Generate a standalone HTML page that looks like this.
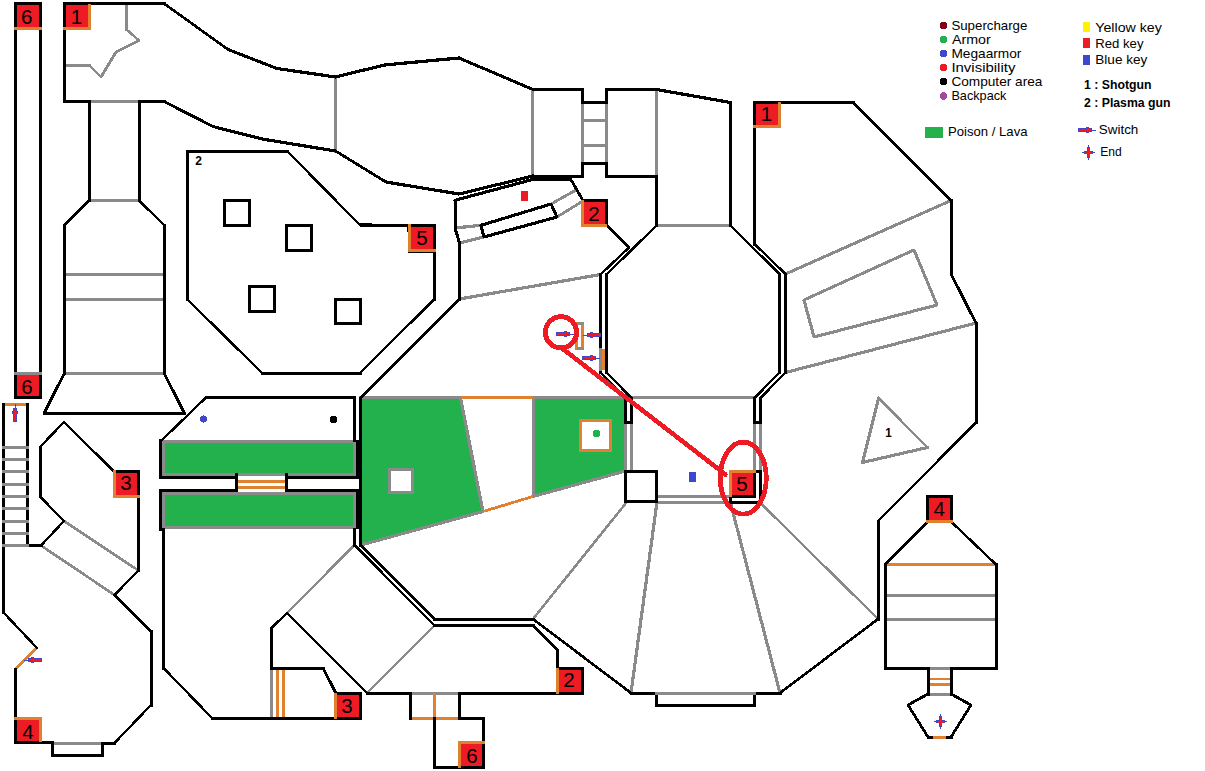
<!DOCTYPE html>
<html lang="en"><head><meta charset="utf-8"><title>Map</title>
<style>
html,body{margin:0;padding:0;background:#fff;}
body{width:1205px;height:771px;overflow:hidden;}
svg{display:block;font-family:"Liberation Sans",sans-serif;}
</style></head><body>
<svg width="1205" height="771" viewBox="0 0 1205 771">
<rect width="1205" height="771" fill="#fff"/>
<g shape-rendering="crispEdges">
<polygon points="361,398 460.5,398 483,511.5 361,545" fill="#22b14c"/>
<polygon points="533,398 625.5,398 625.5,471 533,496.5" fill="#22b14c"/>
<rect x="163.7" y="441.5" width="190.8" height="32.8" fill="#22b14c"/>
<rect x="163.7" y="493.4" width="190.8" height="33.9" fill="#22b14c"/>
<rect x="17" y="5" width="22" height="22" fill="#ed1c24"/>
<rect x="17" y="375" width="22" height="21" fill="#ed1c24"/>
<rect x="66" y="5" width="22" height="22" fill="#ed1c24"/>
<rect x="411" y="227" width="22" height="22" fill="#ed1c24"/>
<rect x="584" y="202" width="21" height="22" fill="#ed1c24"/>
<rect x="756" y="104" width="22" height="21" fill="#ed1c24"/>
<rect x="116" y="473" width="21" height="22" fill="#ed1c24"/>
<rect x="17" y="720" width="22" height="21" fill="#ed1c24"/>
<rect x="337" y="695" width="22" height="22" fill="#ed1c24"/>
<rect x="559" y="670" width="22" height="22" fill="#ed1c24"/>
<rect x="461" y="744" width="21" height="22" fill="#ed1c24"/>
<rect x="929" y="498" width="21" height="22" fill="#ed1c24"/>
<rect x="732" y="473" width="21" height="22" fill="#ed1c24"/>
<line x1="126.5" y1="3.5" x2="126.5" y2="29" stroke="#8a8a8a" stroke-width="3" stroke-linecap="square"/>
<line x1="126" y1="29" x2="139" y2="40.5" stroke="#8a8a8a" stroke-width="2.5" stroke-linecap="round"/>
<line x1="139" y1="40.5" x2="116" y2="52" stroke="#8a8a8a" stroke-width="2.93" stroke-linecap="round"/>
<line x1="116" y1="52" x2="101" y2="77" stroke="#8a8a8a" stroke-width="2.82" stroke-linecap="round"/>
<line x1="101" y1="77" x2="89" y2="65" stroke="#8a8a8a" stroke-width="2.37" stroke-linecap="round"/>
<line x1="89" y1="65.5" x2="64.8" y2="65.5" stroke="#8a8a8a" stroke-width="3" stroke-linecap="square"/>
<line x1="89" y1="101.5" x2="139" y2="101.5" stroke="#8a8a8a" stroke-width="3" stroke-linecap="square"/>
<line x1="89" y1="200.5" x2="139" y2="200.5" stroke="#8a8a8a" stroke-width="3" stroke-linecap="square"/>
<line x1="64.5" y1="274.5" x2="164" y2="274.5" stroke="#8a8a8a" stroke-width="3" stroke-linecap="square"/>
<line x1="64.5" y1="299.5" x2="164" y2="299.5" stroke="#8a8a8a" stroke-width="3" stroke-linecap="square"/>
<line x1="64.5" y1="373.5" x2="164" y2="373.5" stroke="#8a8a8a" stroke-width="3" stroke-linecap="square"/>
<line x1="335.5" y1="77" x2="335.5" y2="151" stroke="#8a8a8a" stroke-width="3" stroke-linecap="square"/>
<line x1="532.5" y1="89.5" x2="532.5" y2="176" stroke="#8a8a8a" stroke-width="3" stroke-linecap="square"/>
<line x1="582.5" y1="102" x2="582.5" y2="163.5" stroke="#8a8a8a" stroke-width="3" stroke-linecap="square"/>
<line x1="606.5" y1="102" x2="606.5" y2="163.5" stroke="#8a8a8a" stroke-width="3" stroke-linecap="square"/>
<line x1="582.5" y1="120.5" x2="606" y2="120.5" stroke="#8a8a8a" stroke-width="3" stroke-linecap="square"/>
<line x1="582.5" y1="145.5" x2="606" y2="145.5" stroke="#8a8a8a" stroke-width="3" stroke-linecap="square"/>
<line x1="656.5" y1="89.5" x2="656.5" y2="176" stroke="#8a8a8a" stroke-width="3" stroke-linecap="square"/>
<line x1="656.5" y1="225.5" x2="730.5" y2="225.5" stroke="#8a8a8a" stroke-width="3" stroke-linecap="square"/>
<line x1="455" y1="228" x2="481" y2="225.3" stroke="#8a8a8a" stroke-width="3.23" stroke-linecap="round"/>
<line x1="459.5" y1="243" x2="484" y2="237" stroke="#8a8a8a" stroke-width="3.16" stroke-linecap="round"/>
<line x1="551" y1="204" x2="577" y2="189.5" stroke="#8a8a8a" stroke-width="2.87" stroke-linecap="round"/>
<line x1="557" y1="217" x2="583" y2="201" stroke="#8a8a8a" stroke-width="2.8" stroke-linecap="round"/>
<line x1="459.5" y1="299" x2="600.5" y2="274.5" stroke="#8a8a8a" stroke-width="3.21" stroke-linecap="round"/>
<line x1="785.5" y1="274" x2="951" y2="200.5" stroke="#8a8a8a" stroke-width="2.99" stroke-linecap="round"/>
<line x1="804" y1="300" x2="914" y2="250" stroke="#8a8a8a" stroke-width="2.98" stroke-linecap="round"/>
<line x1="914" y1="250" x2="937" y2="305" stroke="#8a8a8a" stroke-width="3.02" stroke-linecap="round"/>
<line x1="937" y1="305" x2="814" y2="337" stroke="#8a8a8a" stroke-width="3.15" stroke-linecap="round"/>
<line x1="814" y1="337" x2="804" y2="300" stroke="#8a8a8a" stroke-width="3.15" stroke-linecap="round"/>
<line x1="785.5" y1="372.5" x2="976" y2="323" stroke="#8a8a8a" stroke-width="3.15" stroke-linecap="round"/>
<line x1="878.6" y1="398" x2="927.5" y2="447.5" stroke="#8a8a8a" stroke-width="2.38" stroke-linecap="round"/>
<line x1="927.5" y1="447.5" x2="862.5" y2="462.5" stroke="#8a8a8a" stroke-width="3.17" stroke-linecap="round"/>
<line x1="862.5" y1="462.5" x2="878.6" y2="398" stroke="#8a8a8a" stroke-width="3.16" stroke-linecap="round"/>
<line x1="360" y1="397.5" x2="460.5" y2="397.5" stroke="#8a8a8a" stroke-width="3" stroke-linecap="square"/>
<line x1="533" y1="397.5" x2="754.5" y2="397.5" stroke="#8a8a8a" stroke-width="3" stroke-linecap="square"/>
<line x1="460.5" y1="398" x2="483" y2="511.5" stroke="#8a8a8a" stroke-width="3.19" stroke-linecap="round"/>
<line x1="483" y1="511.5" x2="361" y2="545" stroke="#8a8a8a" stroke-width="3.14" stroke-linecap="round"/>
<line x1="533" y1="496.5" x2="625.5" y2="471" stroke="#8a8a8a" stroke-width="3.14" stroke-linecap="round"/>
<line x1="533.5" y1="398" x2="533.5" y2="496.5" stroke="#8a8a8a" stroke-width="3" stroke-linecap="square"/>
<rect x="389.5" y="469.5" width="23" height="23" fill="#fff" stroke="#8a8a8a" stroke-width="3"/>
<line x1="625.5" y1="422.5" x2="625.5" y2="471" stroke="#8a8a8a" stroke-width="3" stroke-linecap="square"/>
<line x1="631.5" y1="422.5" x2="631.5" y2="471" stroke="#8a8a8a" stroke-width="3" stroke-linecap="square"/>
<line x1="754.5" y1="422.5" x2="754.5" y2="470" stroke="#8a8a8a" stroke-width="3" stroke-linecap="square"/>
<line x1="760.5" y1="422.5" x2="760.5" y2="470" stroke="#8a8a8a" stroke-width="3" stroke-linecap="square"/>
<line x1="656.5" y1="496.5" x2="730" y2="496.5" stroke="#8a8a8a" stroke-width="3" stroke-linecap="square"/>
<line x1="656.5" y1="502.5" x2="730" y2="502.5" stroke="#8a8a8a" stroke-width="3" stroke-linecap="square"/>
<line x1="626" y1="503" x2="533" y2="619" stroke="#8a8a8a" stroke-width="2.59" stroke-linecap="round"/>
<line x1="657" y1="502" x2="631" y2="693" stroke="#8a8a8a" stroke-width="3.22" stroke-linecap="round"/>
<line x1="730.5" y1="503" x2="780" y2="693" stroke="#8a8a8a" stroke-width="3.15" stroke-linecap="round"/>
<line x1="761" y1="503.5" x2="878" y2="619" stroke="#8a8a8a" stroke-width="2.38" stroke-linecap="round"/>
<rect x="163.5" y="441.5" width="191" height="33" fill="none" stroke="#8a8a8a" stroke-width="3"/>
<rect x="163.5" y="493.5" width="191" height="34" fill="none" stroke="#8a8a8a" stroke-width="3"/>
<line x1="354.5" y1="545" x2="287" y2="613" stroke="#8a8a8a" stroke-width="2.38" stroke-linecap="round"/>
<line x1="367" y1="693" x2="434.5" y2="625.5" stroke="#8a8a8a" stroke-width="2.37" stroke-linecap="round"/>
<line x1="271.5" y1="668" x2="271.5" y2="718" stroke="#8a8a8a" stroke-width="3" stroke-linecap="square"/>
<line x1="410" y1="693.5" x2="459" y2="693.5" stroke="#8a8a8a" stroke-width="3" stroke-linecap="square"/>
<line x1="64" y1="521" x2="138.5" y2="570.5" stroke="#8a8a8a" stroke-width="2.75" stroke-linecap="round"/>
<line x1="41" y1="545.5" x2="114.5" y2="595" stroke="#8a8a8a" stroke-width="2.74" stroke-linecap="round"/>
<line x1="52" y1="743.5" x2="102" y2="743.5" stroke="#8a8a8a" stroke-width="3" stroke-linecap="square"/>
<line x1="885" y1="595.5" x2="996" y2="595.5" stroke="#8a8a8a" stroke-width="3" stroke-linecap="square"/>
<line x1="885" y1="619.5" x2="996" y2="619.5" stroke="#8a8a8a" stroke-width="3" stroke-linecap="square"/>
<line x1="928" y1="668.5" x2="951" y2="668.5" stroke="#8a8a8a" stroke-width="3" stroke-linecap="square"/>
<line x1="928" y1="694.5" x2="951" y2="694.5" stroke="#8a8a8a" stroke-width="3" stroke-linecap="square"/>
<line x1="460.5" y1="397.5" x2="533" y2="397.5" stroke="#e0812f" stroke-width="3" stroke-linecap="butt"/>
<line x1="483" y1="511.5" x2="533" y2="496.5" stroke="#e0812f" stroke-width="2.8" stroke-linecap="butt"/>
<rect x="580.5" y="420.5" width="30" height="30" fill="#fff" stroke="#e0812f" stroke-width="3"/>
<rect x="238" y="480" width="47" height="3" fill="#e0812f"/>
<rect x="238" y="486" width="47" height="3" fill="#e0812f"/>
<line x1="277.5" y1="668" x2="277.5" y2="718" stroke="#e0812f" stroke-width="3" stroke-linecap="butt"/>
<line x1="283.5" y1="668" x2="283.5" y2="718" stroke="#e0812f" stroke-width="3" stroke-linecap="butt"/>
<line x1="410" y1="718.5" x2="459" y2="718.5" stroke="#e0812f" stroke-width="3" stroke-linecap="butt"/>
<line x1="434.5" y1="693" x2="434.5" y2="718" stroke="#e0812f" stroke-width="3" stroke-linecap="butt"/>
<line x1="2" y1="404.5" x2="29" y2="404.5" stroke="#e0812f" stroke-width="3" stroke-linecap="butt"/>
<line x1="37" y1="648" x2="15.5" y2="669" stroke="#e0812f" stroke-width="2.8" stroke-linecap="butt"/>
<line x1="885" y1="564.5" x2="996" y2="564.5" stroke="#e0812f" stroke-width="3" stroke-linecap="butt"/>
<line x1="928" y1="679" x2="951" y2="679" stroke="#e0812f" stroke-width="2.2" stroke-linecap="butt"/>
<line x1="928" y1="684.5" x2="951" y2="684.5" stroke="#e0812f" stroke-width="2.2" stroke-linecap="butt"/>
<line x1="15.5" y1="397.5" x2="15.5" y2="3.5" stroke="#000" stroke-width="3" stroke-linecap="square"/>
<line x1="15.5" y1="3.5" x2="40.5" y2="3.5" stroke="#000" stroke-width="3" stroke-linecap="square"/>
<line x1="40.5" y1="3.5" x2="40.5" y2="397.5" stroke="#000" stroke-width="3" stroke-linecap="square"/>
<line x1="40.5" y1="397.5" x2="15.5" y2="397.5" stroke="#000" stroke-width="3" stroke-linecap="square"/>
<line x1="64.5" y1="101.5" x2="64.5" y2="3.5" stroke="#000" stroke-width="3" stroke-linecap="square"/>
<line x1="64.8" y1="3.5" x2="164" y2="3.5" stroke="#000" stroke-width="3" stroke-linecap="square"/>
<line x1="164" y1="3.5" x2="228" y2="49.5" stroke="#000" stroke-width="2.69" stroke-linecap="round"/>
<line x1="228" y1="49.5" x2="277" y2="68.5" stroke="#000" stroke-width="3.05" stroke-linecap="round"/>
<line x1="277" y1="68.5" x2="335.5" y2="77" stroke="#000" stroke-width="3.22" stroke-linecap="round"/>
<line x1="335.5" y1="77" x2="384.5" y2="65" stroke="#000" stroke-width="3.16" stroke-linecap="round"/>
<line x1="384.5" y1="65" x2="459" y2="58" stroke="#000" stroke-width="3.24" stroke-linecap="round"/>
<line x1="459" y1="58" x2="533" y2="89.5" stroke="#000" stroke-width="3.01" stroke-linecap="round"/>
<line x1="533" y1="89.5" x2="582.5" y2="89.5" stroke="#000" stroke-width="3" stroke-linecap="square"/>
<line x1="582.5" y1="89.5" x2="582.5" y2="102" stroke="#000" stroke-width="3" stroke-linecap="square"/>
<line x1="582.5" y1="102.5" x2="606" y2="102.5" stroke="#000" stroke-width="3" stroke-linecap="square"/>
<line x1="606.5" y1="102" x2="606.5" y2="89.5" stroke="#000" stroke-width="3" stroke-linecap="square"/>
<line x1="606" y1="89.5" x2="656.5" y2="89.5" stroke="#000" stroke-width="3" stroke-linecap="square"/>
<line x1="656.5" y1="89.5" x2="730.5" y2="102.5" stroke="#000" stroke-width="3.2" stroke-linecap="round"/>
<line x1="730.5" y1="102.5" x2="730.5" y2="225.5" stroke="#000" stroke-width="3" stroke-linecap="square"/>
<line x1="730.5" y1="225.5" x2="779.5" y2="274" stroke="#000" stroke-width="2.38" stroke-linecap="round"/>
<line x1="779.5" y1="274" x2="779.5" y2="372.5" stroke="#000" stroke-width="3" stroke-linecap="square"/>
<line x1="779.5" y1="372.5" x2="754.5" y2="398" stroke="#000" stroke-width="2.39" stroke-linecap="round"/>
<line x1="754.5" y1="398" x2="754.5" y2="422.5" stroke="#000" stroke-width="3" stroke-linecap="square"/>
<line x1="754.5" y1="422.5" x2="760.5" y2="422.5" stroke="#000" stroke-width="3" stroke-linecap="square"/>
<line x1="760.5" y1="422.5" x2="760.5" y2="398" stroke="#000" stroke-width="3" stroke-linecap="square"/>
<line x1="760.5" y1="398" x2="785.5" y2="372.5" stroke="#000" stroke-width="2.39" stroke-linecap="round"/>
<line x1="785.5" y1="372.5" x2="785.5" y2="274" stroke="#000" stroke-width="3" stroke-linecap="square"/>
<line x1="785.5" y1="274" x2="754.5" y2="244" stroke="#000" stroke-width="2.41" stroke-linecap="round"/>
<line x1="754.5" y1="244" x2="754.5" y2="102.5" stroke="#000" stroke-width="3" stroke-linecap="square"/>
<line x1="754.5" y1="102.5" x2="853" y2="102.5" stroke="#000" stroke-width="3" stroke-linecap="square"/>
<line x1="853" y1="102.5" x2="951" y2="200.5" stroke="#000" stroke-width="2.37" stroke-linecap="round"/>
<line x1="951.5" y1="200.5" x2="951.5" y2="274" stroke="#000" stroke-width="3" stroke-linecap="square"/>
<line x1="951" y1="274" x2="976" y2="323" stroke="#000" stroke-width="2.92" stroke-linecap="round"/>
<line x1="976.5" y1="323" x2="976.5" y2="422.5" stroke="#000" stroke-width="3" stroke-linecap="square"/>
<line x1="976" y1="422.5" x2="878" y2="521" stroke="#000" stroke-width="2.38" stroke-linecap="round"/>
<line x1="878.5" y1="521" x2="878.5" y2="619" stroke="#000" stroke-width="3" stroke-linecap="square"/>
<line x1="878" y1="619" x2="780" y2="693" stroke="#000" stroke-width="2.64" stroke-linecap="round"/>
<line x1="780" y1="693.5" x2="631" y2="693.5" stroke="#000" stroke-width="3" stroke-linecap="square"/>
<line x1="631" y1="693" x2="533" y2="619" stroke="#000" stroke-width="2.64" stroke-linecap="round"/>
<line x1="533" y1="619.5" x2="434.5" y2="619.5" stroke="#000" stroke-width="3" stroke-linecap="square"/>
<line x1="434.5" y1="619" x2="360.5" y2="545" stroke="#000" stroke-width="2.37" stroke-linecap="round"/>
<line x1="360.5" y1="545" x2="360.5" y2="398" stroke="#000" stroke-width="3" stroke-linecap="square"/>
<line x1="64.8" y1="101.5" x2="89" y2="101.5" stroke="#000" stroke-width="3" stroke-linecap="butt"/>
<line x1="139" y1="101.5" x2="164" y2="101.5" stroke="#000" stroke-width="3" stroke-linecap="square"/>
<line x1="164" y1="101.5" x2="213" y2="126.5" stroke="#000" stroke-width="2.92" stroke-linecap="round"/>
<line x1="213" y1="126.5" x2="262" y2="139" stroke="#000" stroke-width="3.16" stroke-linecap="round"/>
<line x1="262" y1="139" x2="335.5" y2="151" stroke="#000" stroke-width="3.21" stroke-linecap="round"/>
<line x1="335.5" y1="151" x2="386" y2="182" stroke="#000" stroke-width="2.81" stroke-linecap="round"/>
<line x1="386" y1="182" x2="459" y2="194" stroke="#000" stroke-width="3.21" stroke-linecap="round"/>
<line x1="459" y1="194" x2="533" y2="176" stroke="#000" stroke-width="3.17" stroke-linecap="round"/>
<line x1="533" y1="176.5" x2="582.5" y2="176.5" stroke="#000" stroke-width="3" stroke-linecap="square"/>
<line x1="582.5" y1="176" x2="582.5" y2="163.5" stroke="#000" stroke-width="3" stroke-linecap="square"/>
<line x1="582.5" y1="163.5" x2="606" y2="163.5" stroke="#000" stroke-width="3" stroke-linecap="square"/>
<line x1="606.5" y1="163.5" x2="606.5" y2="176" stroke="#000" stroke-width="3" stroke-linecap="square"/>
<line x1="606" y1="176.5" x2="656.5" y2="176.5" stroke="#000" stroke-width="3" stroke-linecap="square"/>
<line x1="656.5" y1="176" x2="656.5" y2="225.5" stroke="#000" stroke-width="3" stroke-linecap="square"/>
<line x1="656.5" y1="225.5" x2="606.5" y2="274.5" stroke="#000" stroke-width="2.39" stroke-linecap="round"/>
<line x1="606.5" y1="274.5" x2="606.5" y2="372.5" stroke="#000" stroke-width="3" stroke-linecap="square"/>
<line x1="606.5" y1="372.5" x2="631.5" y2="398" stroke="#000" stroke-width="2.39" stroke-linecap="round"/>
<line x1="631.5" y1="398" x2="631.5" y2="422.5" stroke="#000" stroke-width="3" stroke-linecap="square"/>
<line x1="631.5" y1="422.5" x2="625.5" y2="422.5" stroke="#000" stroke-width="3" stroke-linecap="square"/>
<line x1="625.5" y1="422.5" x2="625.5" y2="398" stroke="#000" stroke-width="3" stroke-linecap="square"/>
<line x1="625.5" y1="398" x2="600.5" y2="372.5" stroke="#000" stroke-width="2.39" stroke-linecap="round"/>
<line x1="600.5" y1="372.5" x2="600.5" y2="274.5" stroke="#000" stroke-width="3" stroke-linecap="square"/>
<line x1="600.5" y1="274.5" x2="629" y2="247.5" stroke="#000" stroke-width="2.43" stroke-linecap="round"/>
<line x1="629" y1="247.5" x2="607" y2="225.5" stroke="#000" stroke-width="2.37" stroke-linecap="round"/>
<line x1="89.5" y1="101.5" x2="89.5" y2="200.5" stroke="#000" stroke-width="3" stroke-linecap="square"/>
<line x1="89" y1="200.5" x2="64.5" y2="225" stroke="#000" stroke-width="2.37" stroke-linecap="round"/>
<line x1="64.5" y1="225" x2="64.5" y2="373" stroke="#000" stroke-width="3" stroke-linecap="square"/>
<line x1="64.5" y1="373" x2="44" y2="413.4" stroke="#000" stroke-width="2.93" stroke-linecap="round"/>
<line x1="44" y1="413.5" x2="184.5" y2="413.5" stroke="#000" stroke-width="3" stroke-linecap="square"/>
<line x1="184.5" y1="413.4" x2="164" y2="373" stroke="#000" stroke-width="2.93" stroke-linecap="round"/>
<line x1="164.5" y1="373" x2="164.5" y2="225" stroke="#000" stroke-width="3" stroke-linecap="square"/>
<line x1="164" y1="225" x2="139" y2="200.5" stroke="#000" stroke-width="2.39" stroke-linecap="round"/>
<line x1="139.5" y1="200.5" x2="139.5" y2="101.5" stroke="#000" stroke-width="3" stroke-linecap="square"/>
<line x1="187" y1="151.5" x2="287" y2="151.5" stroke="#000" stroke-width="3" stroke-linecap="square"/>
<line x1="287" y1="151" x2="360" y2="225" stroke="#000" stroke-width="2.39" stroke-linecap="round"/>
<line x1="360" y1="225" x2="409" y2="225.5" stroke="#000" stroke-width="3.25" stroke-linecap="round"/>
<line x1="409" y1="225.5" x2="409.5" y2="251" stroke="#000" stroke-width="3.25" stroke-linecap="round"/>
<line x1="409.5" y1="251.5" x2="434.5" y2="251.5" stroke="#000" stroke-width="3" stroke-linecap="square"/>
<line x1="434.5" y1="251" x2="434.5" y2="299" stroke="#000" stroke-width="3" stroke-linecap="square"/>
<line x1="434.5" y1="299" x2="360" y2="373" stroke="#000" stroke-width="2.38" stroke-linecap="round"/>
<line x1="360" y1="373.5" x2="262" y2="373.5" stroke="#000" stroke-width="3" stroke-linecap="square"/>
<line x1="262" y1="373" x2="187" y2="299" stroke="#000" stroke-width="2.39" stroke-linecap="round"/>
<line x1="187.5" y1="299" x2="187.5" y2="151" stroke="#000" stroke-width="3" stroke-linecap="square"/>
<line x1="409" y1="225.5" x2="436" y2="225.5" stroke="#000" stroke-width="3" stroke-linecap="butt"/>
<line x1="434.5" y1="225" x2="434.5" y2="251" stroke="#000" stroke-width="3" stroke-linecap="butt"/>
<rect x="224.5" y="200.5" width="25" height="25" fill="none" stroke="#000" stroke-width="3"/>
<rect x="286.5" y="225.5" width="25" height="25" fill="none" stroke="#000" stroke-width="3"/>
<rect x="249.5" y="286.5" width="25" height="25" fill="none" stroke="#000" stroke-width="3"/>
<rect x="335.5" y="299.5" width="25" height="24" fill="none" stroke="#000" stroke-width="3"/>
<line x1="533" y1="179.4" x2="455" y2="200.3" stroke="#000" stroke-width="3.15" stroke-linecap="round"/>
<line x1="455.5" y1="200.3" x2="455.5" y2="228" stroke="#000" stroke-width="3" stroke-linecap="square"/>
<line x1="455" y1="228" x2="459.5" y2="243" stroke="#000" stroke-width="3.12" stroke-linecap="round"/>
<line x1="459.5" y1="243" x2="459.5" y2="299" stroke="#000" stroke-width="3" stroke-linecap="square"/>
<line x1="459.5" y1="299" x2="361" y2="397.5" stroke="#000" stroke-width="2.37" stroke-linecap="round"/>
<rect x="532" y="175" width="38.5" height="5.6" fill="#000"/>
<line x1="570" y1="178" x2="583" y2="200.5" stroke="#000" stroke-width="2.85" stroke-linecap="round"/>
<line x1="481" y1="225.3" x2="551" y2="204" stroke="#000" stroke-width="3.12" stroke-linecap="round"/>
<line x1="551" y1="204" x2="557" y2="217" stroke="#000" stroke-width="2.97" stroke-linecap="round"/>
<line x1="557" y1="217" x2="484" y2="237" stroke="#000" stroke-width="3.14" stroke-linecap="round"/>
<line x1="484" y1="237" x2="481" y2="225.3" stroke="#000" stroke-width="3.16" stroke-linecap="round"/>
<rect x="521" y="191" width="7" height="10" fill="#ed1c24"/>
<rect x="625.5" y="471.5" width="31" height="30" fill="none" stroke="#000" stroke-width="3"/>
<line x1="656.5" y1="693" x2="656.5" y2="705" stroke="#000" stroke-width="3" stroke-linecap="square"/>
<line x1="656" y1="705.5" x2="754.5" y2="705.5" stroke="#000" stroke-width="3" stroke-linecap="square"/>
<line x1="754.5" y1="705" x2="754.5" y2="693" stroke="#000" stroke-width="3" stroke-linecap="square"/>
<line x1="655" y1="693.5" x2="756" y2="693.5" stroke="#8a8a8a" stroke-width="3" stroke-linecap="butt"/>
<line x1="354.5" y1="440" x2="354.5" y2="397.5" stroke="#000" stroke-width="3" stroke-linecap="square"/>
<line x1="354.5" y1="397.5" x2="206" y2="397.5" stroke="#000" stroke-width="3" stroke-linecap="square"/>
<line x1="206" y1="397.5" x2="161" y2="441" stroke="#000" stroke-width="2.41" stroke-linecap="round"/>
<line x1="160.5" y1="440.5" x2="160.5" y2="477.5" stroke="#000" stroke-width="3" stroke-linecap="square"/>
<line x1="160.5" y1="477.5" x2="236.5" y2="477.5" stroke="#000" stroke-width="3" stroke-linecap="square"/>
<line x1="286.5" y1="477.5" x2="359" y2="477.5" stroke="#000" stroke-width="3" stroke-linecap="square"/>
<line x1="236.5" y1="474.5" x2="236.5" y2="490.5" stroke="#000" stroke-width="3" stroke-linecap="square"/>
<line x1="236.5" y1="490.5" x2="160.5" y2="490.5" stroke="#000" stroke-width="3" stroke-linecap="square"/>
<line x1="160.5" y1="490.5" x2="160.5" y2="529" stroke="#000" stroke-width="3" stroke-linecap="square"/>
<line x1="359" y1="490.5" x2="286.5" y2="490.5" stroke="#000" stroke-width="3" stroke-linecap="square"/>
<line x1="286.5" y1="490.5" x2="286.5" y2="474.5" stroke="#000" stroke-width="3" stroke-linecap="square"/>
<rect x="356" y="440" width="6" height="39" fill="#000"/>
<rect x="356" y="489.3" width="6" height="40" fill="#000"/>
<line x1="163.5" y1="529" x2="163.5" y2="668" stroke="#000" stroke-width="3" stroke-linecap="square"/>
<line x1="163.5" y1="668" x2="212.5" y2="718.5" stroke="#000" stroke-width="2.4" stroke-linecap="round"/>
<line x1="212.5" y1="718.5" x2="360.5" y2="718.5" stroke="#000" stroke-width="3" stroke-linecap="square"/>
<line x1="360.5" y1="718.5" x2="360.5" y2="693.5" stroke="#000" stroke-width="3" stroke-linecap="square"/>
<line x1="354.5" y1="529" x2="354.5" y2="545" stroke="#000" stroke-width="3" stroke-linecap="square"/>
<line x1="354.5" y1="545" x2="434.5" y2="625.5" stroke="#000" stroke-width="2.38" stroke-linecap="round"/>
<line x1="434.5" y1="625.5" x2="533" y2="625.5" stroke="#000" stroke-width="3" stroke-linecap="square"/>
<line x1="533" y1="625.5" x2="557.5" y2="650" stroke="#000" stroke-width="2.37" stroke-linecap="round"/>
<line x1="557.5" y1="650" x2="557.5" y2="668.5" stroke="#000" stroke-width="3" stroke-linecap="square"/>
<line x1="367" y1="693.5" x2="410" y2="693.5" stroke="#000" stroke-width="3" stroke-linecap="square"/>
<line x1="459" y1="693.5" x2="582.5" y2="693.5" stroke="#000" stroke-width="3" stroke-linecap="square"/>
<line x1="582.5" y1="693.5" x2="582.5" y2="668.5" stroke="#000" stroke-width="3" stroke-linecap="square"/>
<line x1="582.5" y1="668.5" x2="557.5" y2="668.5" stroke="#000" stroke-width="3" stroke-linecap="square"/>
<line x1="367" y1="693.3" x2="287" y2="613" stroke="#000" stroke-width="2.38" stroke-linecap="round"/>
<line x1="287" y1="613" x2="271.5" y2="628" stroke="#000" stroke-width="2.41" stroke-linecap="round"/>
<line x1="271.5" y1="628" x2="271.5" y2="668" stroke="#000" stroke-width="3" stroke-linecap="square"/>
<line x1="271.5" y1="668.5" x2="323" y2="668.5" stroke="#000" stroke-width="3" stroke-linecap="square"/>
<line x1="323" y1="668" x2="336" y2="693.5" stroke="#000" stroke-width="2.92" stroke-linecap="round"/>
<line x1="336" y1="693.5" x2="360.5" y2="693.5" stroke="#000" stroke-width="3" stroke-linecap="square"/>
<line x1="410.5" y1="693.3" x2="410.5" y2="718" stroke="#000" stroke-width="3" stroke-linecap="square"/>
<line x1="459.5" y1="693.3" x2="459.5" y2="718.3" stroke="#000" stroke-width="3" stroke-linecap="square"/>
<line x1="459" y1="718.5" x2="483.5" y2="718.5" stroke="#000" stroke-width="3" stroke-linecap="square"/>
<line x1="483.5" y1="718.3" x2="483.5" y2="767.5" stroke="#000" stroke-width="3" stroke-linecap="square"/>
<line x1="483.5" y1="767.5" x2="434.3" y2="767.5" stroke="#000" stroke-width="3" stroke-linecap="square"/>
<line x1="434.5" y1="767.5" x2="434.5" y2="718.3" stroke="#000" stroke-width="3" stroke-linecap="square"/>
<line x1="27.5" y1="404" x2="27.5" y2="545.5" stroke="#000" stroke-width="3" stroke-linecap="square"/>
<line x1="27.5" y1="545.5" x2="41" y2="545.5" stroke="#000" stroke-width="3" stroke-linecap="square"/>
<line x1="41" y1="545.5" x2="64" y2="521" stroke="#000" stroke-width="2.44" stroke-linecap="round"/>
<line x1="64" y1="521" x2="40" y2="496.5" stroke="#000" stroke-width="2.39" stroke-linecap="round"/>
<line x1="40.5" y1="496.5" x2="40.5" y2="447" stroke="#000" stroke-width="3" stroke-linecap="square"/>
<line x1="40" y1="447" x2="64" y2="422" stroke="#000" stroke-width="2.41" stroke-linecap="round"/>
<line x1="64" y1="422" x2="114" y2="471.5" stroke="#000" stroke-width="2.38" stroke-linecap="round"/>
<line x1="114" y1="471.5" x2="138.5" y2="471.5" stroke="#000" stroke-width="3" stroke-linecap="square"/>
<line x1="138.5" y1="471.5" x2="138.5" y2="570.5" stroke="#000" stroke-width="3" stroke-linecap="square"/>
<line x1="138.5" y1="570.5" x2="114.5" y2="595" stroke="#000" stroke-width="2.39" stroke-linecap="round"/>
<line x1="114.5" y1="595" x2="151" y2="631.5" stroke="#000" stroke-width="2.37" stroke-linecap="round"/>
<line x1="151.5" y1="631.5" x2="151.5" y2="705" stroke="#000" stroke-width="3" stroke-linecap="square"/>
<line x1="151" y1="705" x2="114.5" y2="743" stroke="#000" stroke-width="2.41" stroke-linecap="round"/>
<line x1="114.5" y1="743.5" x2="102" y2="743.5" stroke="#000" stroke-width="3" stroke-linecap="square"/>
<line x1="102.5" y1="743" x2="102.5" y2="755" stroke="#000" stroke-width="3" stroke-linecap="square"/>
<line x1="102" y1="755.5" x2="52" y2="755.5" stroke="#000" stroke-width="3" stroke-linecap="square"/>
<line x1="52.5" y1="755" x2="52.5" y2="742.5" stroke="#000" stroke-width="3" stroke-linecap="square"/>
<line x1="52" y1="742.5" x2="15.5" y2="742.5" stroke="#000" stroke-width="3" stroke-linecap="square"/>
<line x1="15.5" y1="742.5" x2="15.5" y2="669" stroke="#000" stroke-width="3" stroke-linecap="square"/>
<line x1="3.5" y1="404" x2="3.5" y2="612.5" stroke="#000" stroke-width="3" stroke-linecap="square"/>
<line x1="3.5" y1="612.5" x2="37" y2="648" stroke="#000" stroke-width="2.43" stroke-linecap="round"/>
<line x1="2" y1="447.5" x2="29" y2="447.5" stroke="#8a8a8a" stroke-width="3" stroke-linecap="butt"/>
<line x1="2" y1="459.5" x2="29" y2="459.5" stroke="#8a8a8a" stroke-width="3" stroke-linecap="butt"/>
<line x1="2" y1="471.5" x2="29" y2="471.5" stroke="#8a8a8a" stroke-width="3" stroke-linecap="butt"/>
<line x1="2" y1="484.5" x2="29" y2="484.5" stroke="#8a8a8a" stroke-width="3" stroke-linecap="butt"/>
<line x1="2" y1="496.5" x2="29" y2="496.5" stroke="#8a8a8a" stroke-width="3" stroke-linecap="butt"/>
<line x1="2" y1="508.5" x2="29" y2="508.5" stroke="#8a8a8a" stroke-width="3" stroke-linecap="butt"/>
<line x1="2" y1="521.5" x2="29" y2="521.5" stroke="#8a8a8a" stroke-width="3" stroke-linecap="butt"/>
<line x1="2" y1="533.5" x2="29" y2="533.5" stroke="#8a8a8a" stroke-width="3" stroke-linecap="butt"/>
<line x1="2" y1="545.5" x2="29" y2="545.5" stroke="#8a8a8a" stroke-width="3" stroke-linecap="butt"/>
<line x1="927.5" y1="521" x2="927.5" y2="496.5" stroke="#000" stroke-width="3" stroke-linecap="square"/>
<line x1="927.5" y1="496.5" x2="951.5" y2="496.5" stroke="#000" stroke-width="3" stroke-linecap="square"/>
<line x1="951.5" y1="496.5" x2="951.5" y2="521" stroke="#000" stroke-width="3" stroke-linecap="square"/>
<line x1="927.5" y1="522" x2="885" y2="564.5" stroke="#000" stroke-width="2.37" stroke-linecap="round"/>
<line x1="885.5" y1="564.5" x2="885.5" y2="668.5" stroke="#000" stroke-width="3" stroke-linecap="square"/>
<line x1="885" y1="668.5" x2="928" y2="668.5" stroke="#000" stroke-width="3" stroke-linecap="square"/>
<line x1="928.5" y1="668.5" x2="928.5" y2="694" stroke="#000" stroke-width="3" stroke-linecap="square"/>
<line x1="928" y1="694" x2="908" y2="705" stroke="#000" stroke-width="2.88" stroke-linecap="round"/>
<line x1="908" y1="705" x2="928" y2="737" stroke="#000" stroke-width="2.79" stroke-linecap="round"/>
<line x1="928" y1="737.5" x2="951" y2="737.5" stroke="#000" stroke-width="3" stroke-linecap="square"/>
<line x1="951" y1="737" x2="971" y2="705" stroke="#000" stroke-width="2.79" stroke-linecap="round"/>
<line x1="971" y1="705" x2="951" y2="694" stroke="#000" stroke-width="2.88" stroke-linecap="round"/>
<line x1="951.5" y1="694" x2="951.5" y2="668.5" stroke="#000" stroke-width="3" stroke-linecap="square"/>
<line x1="951" y1="668.5" x2="996" y2="668.5" stroke="#000" stroke-width="3" stroke-linecap="square"/>
<line x1="996.5" y1="668.5" x2="996.5" y2="564.5" stroke="#000" stroke-width="3" stroke-linecap="square"/>
<line x1="996" y1="564.5" x2="951.5" y2="522" stroke="#000" stroke-width="2.42" stroke-linecap="round"/>
<line x1="933" y1="737.5" x2="946" y2="737.5" stroke="#e0812f" stroke-width="3" stroke-linecap="butt"/>
<line x1="754.5" y1="474" x2="754.5" y2="496.5" stroke="#000" stroke-width="3" stroke-linecap="square"/>
<line x1="754.5" y1="496.5" x2="733" y2="496.5" stroke="#000" stroke-width="3" stroke-linecap="square"/>
<line x1="757" y1="471.5" x2="760.5" y2="471.5" stroke="#000" stroke-width="3" stroke-linecap="square"/>
<line x1="760.5" y1="471.5" x2="760.5" y2="502.5" stroke="#000" stroke-width="3" stroke-linecap="square"/>
<line x1="760.5" y1="502.5" x2="730.5" y2="502.5" stroke="#000" stroke-width="3" stroke-linecap="square"/>
<line x1="730.5" y1="502.5" x2="730.5" y2="498.5" stroke="#000" stroke-width="3" stroke-linecap="square"/>
<line x1="14" y1="28.5" x2="42" y2="28.5" stroke="#e0812f" stroke-width="3" stroke-linecap="butt"/>
<line x1="14" y1="373.5" x2="42" y2="373.5" stroke="#8a8a8a" stroke-width="3" stroke-linecap="butt"/>
<line x1="63" y1="28.5" x2="91" y2="28.5" stroke="#e0812f" stroke-width="3" stroke-linecap="butt"/>
<line x1="89.5" y1="4" x2="89.5" y2="30" stroke="#e0812f" stroke-width="3" stroke-linecap="butt"/>
<line x1="409.5" y1="224" x2="409.5" y2="252" stroke="#e0812f" stroke-width="3" stroke-linecap="butt"/>
<line x1="408" y1="250.5" x2="436" y2="250.5" stroke="#e0812f" stroke-width="3" stroke-linecap="butt"/>
<line x1="583" y1="200.5" x2="608" y2="200.5" stroke="#000" stroke-width="3" stroke-linecap="butt"/>
<line x1="606.5" y1="199" x2="606.5" y2="225" stroke="#000" stroke-width="3" stroke-linecap="butt"/>
<line x1="582.5" y1="200" x2="582.5" y2="227" stroke="#e0812f" stroke-width="3" stroke-linecap="butt"/>
<line x1="581" y1="225.5" x2="607" y2="225.5" stroke="#e0812f" stroke-width="3" stroke-linecap="butt"/>
<line x1="779.5" y1="102" x2="779.5" y2="128" stroke="#e0812f" stroke-width="3" stroke-linecap="butt"/>
<line x1="753" y1="126.5" x2="781" y2="126.5" stroke="#e0812f" stroke-width="3" stroke-linecap="butt"/>
<line x1="114.5" y1="470" x2="114.5" y2="498" stroke="#e0812f" stroke-width="3" stroke-linecap="butt"/>
<line x1="113" y1="496.5" x2="140" y2="496.5" stroke="#e0812f" stroke-width="3" stroke-linecap="butt"/>
<line x1="14" y1="718.5" x2="42" y2="718.5" stroke="#e0812f" stroke-width="3" stroke-linecap="butt"/>
<line x1="40.5" y1="717" x2="40.5" y2="742" stroke="#e0812f" stroke-width="3" stroke-linecap="butt"/>
<line x1="335.5" y1="693" x2="335.5" y2="719" stroke="#e0812f" stroke-width="3" stroke-linecap="butt"/>
<line x1="557.5" y1="668" x2="557.5" y2="694" stroke="#e0812f" stroke-width="3" stroke-linecap="butt"/>
<line x1="459.5" y1="741" x2="459.5" y2="768" stroke="#e0812f" stroke-width="3" stroke-linecap="butt"/>
<line x1="458" y1="742.5" x2="485" y2="742.5" stroke="#e0812f" stroke-width="3" stroke-linecap="butt"/>
<line x1="926" y1="521.5" x2="953" y2="521.5" stroke="#e0812f" stroke-width="3" stroke-linecap="butt"/>
<line x1="730.5" y1="470" x2="730.5" y2="497" stroke="#e0812f" stroke-width="3" stroke-linecap="butt"/>
<line x1="729" y1="471.5" x2="756" y2="471.5" stroke="#e0812f" stroke-width="3" stroke-linecap="butt"/>
<circle cx="203.5" cy="419" r="3.6" fill="#3f48cc"/>
<circle cx="333.5" cy="419.5" r="3.6" fill="#000"/>
<circle cx="596.5" cy="433.5" r="3.6" fill="#22b14c"/>
<rect x="689" y="472" width="7" height="10" fill="#3f48cc"/>
<text x="195.2" y="165" font-size="12" font-weight="bold" text-anchor="start" fill="#000" textLength="6.7" lengthAdjust="spacingAndGlyphs">2</text>
<text x="885.2" y="437" font-size="12" font-weight="bold" text-anchor="start" fill="#000" textLength="6.5" lengthAdjust="spacingAndGlyphs">1</text>
<line x1="576.5" y1="322" x2="576.5" y2="350" stroke="#e0812f" stroke-width="3" stroke-linecap="butt"/>
<line x1="582.5" y1="322" x2="582.5" y2="350" stroke="#e0812f" stroke-width="3" stroke-linecap="butt"/>
<line x1="577" y1="323.5" x2="584" y2="323.5" stroke="#8a8a8a" stroke-width="3" stroke-linecap="butt"/>
<line x1="577" y1="348.5" x2="584" y2="348.5" stroke="#8a8a8a" stroke-width="3" stroke-linecap="butt"/>
<line x1="600.5" y1="347.5" x2="600.5" y2="371" stroke="#8a8a8a" stroke-width="3" stroke-linecap="butt"/>
<line x1="603.5" y1="348.5" x2="603.5" y2="370" stroke="#e0812f" stroke-width="3" stroke-linecap="butt"/>
<rect x="556" y="332" width="14" height="4" fill="#3f48cc"/>
<rect x="570" y="333.5" width="4" height="1" fill="#3f48cc"/>
<rect x="564" y="331" width="3" height="6" fill="#3f48cc"/>
<rect x="557" y="333" width="12" height="2" fill="#ed1c24"/>
<rect x="564.5" y="332" width="2" height="4" fill="#ed1c24"/>
<rect x="587" y="333" width="14" height="4" fill="#3f48cc"/>
<rect x="583" y="334.5" width="4" height="1" fill="#3f48cc"/>
<rect x="590" y="332" width="3" height="6" fill="#3f48cc"/>
<rect x="588" y="334" width="12" height="2" fill="#ed1c24"/>
<rect x="590.5" y="333" width="2" height="4" fill="#ed1c24"/>
<rect x="582" y="356" width="14" height="4" fill="#3f48cc"/>
<rect x="596" y="357.5" width="4" height="1" fill="#3f48cc"/>
<rect x="590" y="355" width="3" height="6" fill="#3f48cc"/>
<rect x="583" y="357" width="12" height="2" fill="#ed1c24"/>
<rect x="590.5" y="356" width="2" height="4" fill="#ed1c24"/>
<rect x="13" y="408" width="4" height="14" fill="#3f48cc"/>
<rect x="14.5" y="404" width="1" height="4" fill="#3f48cc"/>
<rect x="12" y="411" width="6" height="3" fill="#3f48cc"/>
<rect x="14" y="409" width="2" height="12" fill="#ed1c24"/>
<rect x="13" y="411.5" width="4" height="2" fill="#ed1c24"/>
<rect x="28" y="658" width="14" height="4" fill="#3f48cc"/>
<rect x="24" y="659.5" width="4" height="1" fill="#3f48cc"/>
<rect x="31" y="657" width="3" height="6" fill="#3f48cc"/>
<rect x="29" y="659" width="12" height="2" fill="#ed1c24"/>
<rect x="31.5" y="658" width="2" height="4" fill="#ed1c24"/>
<rect x="940" y="714" width="1" height="15" fill="#3f48cc"/>
<rect x="934" y="721" width="13" height="1" fill="#3f48cc"/>
<rect x="939" y="716" width="3" height="11" fill="#3f48cc"/>
<rect x="936" y="720" width="9" height="3" fill="#3f48cc"/>
<rect x="939.5" y="717" width="2" height="9" fill="#ed1c24"/>
<rect x="937" y="720.5" width="7" height="2" fill="#ed1c24"/>
<circle cx="561" cy="332.3" r="15.6" fill="none" stroke="#ed1c24" stroke-width="5"/>
<line x1="563" y1="349" x2="725.5" y2="474.5" stroke="#ed1c24" stroke-width="4.6" stroke-linecap="round"/>
<ellipse cx="743.3" cy="478.1" rx="23" ry="36" fill="none" stroke="#ed1c24" stroke-width="4.8"/>
<circle cx="943.5" cy="25.5" r="3.7" fill="#880015"/>
<text x="951.4" y="29.8" font-size="12.7" font-weight="normal" text-anchor="start" fill="#000" textLength="76" lengthAdjust="spacingAndGlyphs">Supercharge</text>
<circle cx="943.5" cy="39.5" r="3.7" fill="#22b14c"/>
<text x="952" y="43.8" font-size="12.7" font-weight="normal" text-anchor="start" fill="#000" textLength="38.8" lengthAdjust="spacingAndGlyphs">Armor</text>
<circle cx="943.5" cy="53.5" r="3.7" fill="#3f48cc"/>
<text x="951.4" y="57.8" font-size="12.7" font-weight="normal" text-anchor="start" fill="#000" textLength="70" lengthAdjust="spacingAndGlyphs">Megaarmor</text>
<circle cx="943.5" cy="67.5" r="3.7" fill="#ed1c24"/>
<text x="951.4" y="71.8" font-size="12.7" font-weight="normal" text-anchor="start" fill="#000" textLength="64" lengthAdjust="spacingAndGlyphs">Invisibility</text>
<circle cx="943.5" cy="81.5" r="3.7" fill="#000"/>
<text x="951.4" y="85.8" font-size="12.7" font-weight="normal" text-anchor="start" fill="#000" textLength="91" lengthAdjust="spacingAndGlyphs">Computer area</text>
<circle cx="943.5" cy="96" r="3.7" fill="#a349a4"/>
<text x="951.4" y="100.3" font-size="12.7" font-weight="normal" text-anchor="start" fill="#000" textLength="55" lengthAdjust="spacingAndGlyphs">Backpack</text>
<rect x="1083" y="22" width="7" height="10" fill="#fff200"/>
<text x="1095.3" y="31.8" font-size="13" font-weight="normal" text-anchor="start" fill="#000" textLength="66.5" lengthAdjust="spacingAndGlyphs">Yellow key</text>
<rect x="1083" y="38" width="7" height="10" fill="#ed1c24"/>
<text x="1095.3" y="47.5" font-size="13" font-weight="normal" text-anchor="start" fill="#000" textLength="48.2" lengthAdjust="spacingAndGlyphs">Red key</text>
<rect x="1083" y="55" width="7" height="10" fill="#3f48cc"/>
<text x="1095.3" y="63.7" font-size="13" font-weight="normal" text-anchor="start" fill="#000" textLength="52" lengthAdjust="spacingAndGlyphs">Blue key</text>
<text x="1084" y="89" font-size="13" font-weight="bold" text-anchor="start" fill="#000" textLength="67.5" lengthAdjust="spacingAndGlyphs">1 : Shotgun</text>
<text x="1084" y="106.6" font-size="13" font-weight="bold" text-anchor="start" fill="#000" textLength="86.5" lengthAdjust="spacingAndGlyphs">2 : Plasma gun</text>
<rect x="925" y="126.6" width="18" height="11.4" fill="#22b14c"/>
<text x="948" y="135.7" font-size="13" font-weight="normal" text-anchor="start" fill="#000" textLength="79.5" lengthAdjust="spacingAndGlyphs">Poison / Lava</text>
<rect x="1078" y="128" width="14" height="4" fill="#3f48cc"/>
<rect x="1092" y="129.5" width="4" height="1" fill="#3f48cc"/>
<rect x="1086" y="127" width="3" height="6" fill="#3f48cc"/>
<rect x="1079" y="129" width="12" height="2" fill="#ed1c24"/>
<rect x="1086.5" y="128" width="2" height="4" fill="#ed1c24"/>
<text x="1098.8" y="134.3" font-size="13" font-weight="normal" text-anchor="start" fill="#000" textLength="39.5" lengthAdjust="spacingAndGlyphs">Switch</text>
<rect x="1088" y="145" width="1" height="15" fill="#3f48cc"/>
<rect x="1082" y="152" width="13" height="1" fill="#3f48cc"/>
<rect x="1087" y="147" width="3" height="11" fill="#3f48cc"/>
<rect x="1084" y="151" width="9" height="3" fill="#3f48cc"/>
<rect x="1087.5" y="148" width="2" height="9" fill="#ed1c24"/>
<rect x="1085" y="151.5" width="7" height="2" fill="#ed1c24"/>
<text x="1100.2" y="156" font-size="13" font-weight="normal" text-anchor="start" fill="#000" textLength="21.5" lengthAdjust="spacingAndGlyphs">End</text>
<text x="26.6" y="24.2" font-size="20.5" text-anchor="middle" fill="#000">6</text>
<text x="27" y="394" font-size="20.5" text-anchor="middle" fill="#000">6</text>
<text x="76.5" y="24.2" font-size="20.5" text-anchor="middle" fill="#000">1</text>
<text x="422" y="245" font-size="20.5" text-anchor="middle" fill="#000">5</text>
<text x="594" y="220.6" font-size="20.5" text-anchor="middle" fill="#000">2</text>
<text x="766.5" y="121" font-size="20.5" text-anchor="middle" fill="#000">1</text>
<text x="126" y="490" font-size="20.5" text-anchor="middle" fill="#000">3</text>
<text x="28" y="739" font-size="20.5" text-anchor="middle" fill="#000">4</text>
<text x="347" y="713" font-size="20.5" text-anchor="middle" fill="#000">3</text>
<text x="569" y="687" font-size="20.5" text-anchor="middle" fill="#000">2</text>
<text x="472" y="763" font-size="20.5" text-anchor="middle" fill="#000">6</text>
<text x="939.3" y="515.7" font-size="20.5" text-anchor="middle" fill="#000">4</text>
<text x="742" y="491" font-size="20.5" text-anchor="middle" fill="#000">5</text>
</g>
</svg>
</body></html>
